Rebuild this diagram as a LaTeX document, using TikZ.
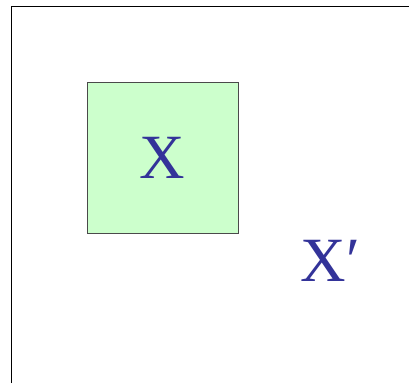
\documentclass[tikz,border=0pt]{standalone}
\usepackage{fontspec}
\setmainfont{Liberation Serif}
\usepackage{xcolor}
\usepackage{tikz}
\definecolor{SetBlue}{HTML}{333399}
\definecolor{SetFill}{HTML}{CCFFCC}
\definecolor{EdgeGray}{HTML}{4A4A4A}
\tikzset{
  spaceframe/.style={draw=black,line width=0.9pt},
  setbox/.style={draw=EdgeGray,fill=SetFill,line width=0.7pt,minimum size=151pt,inner sep=0pt},
  setlabel/.style={text=SetBlue,font=\fontsize{63}{63}\selectfont,inner sep=0pt}
}
\begin{document}
\begin{tikzpicture}[x=1pt,y=1pt]
  \useasboundingbox (0,0) rectangle (409,383);
  \fill[white] (0,0) rectangle (409,383);
  % open frame of the space
  \coordinate (FrameBL) at (11,0);
  \coordinate (FrameTL) at (11,377);
  \coordinate (FrameTR) at (409,377);
  \draw[spaceframe] (FrameBL) -- (FrameTL) -- (FrameTR);

  \node[setbox,setlabel] (SetX) at (162.5,225.5) {X};
  \node[setlabel,anchor=base west] (SetXc) at (300.5,102) {X′};
\end{tikzpicture}
\end{document}
